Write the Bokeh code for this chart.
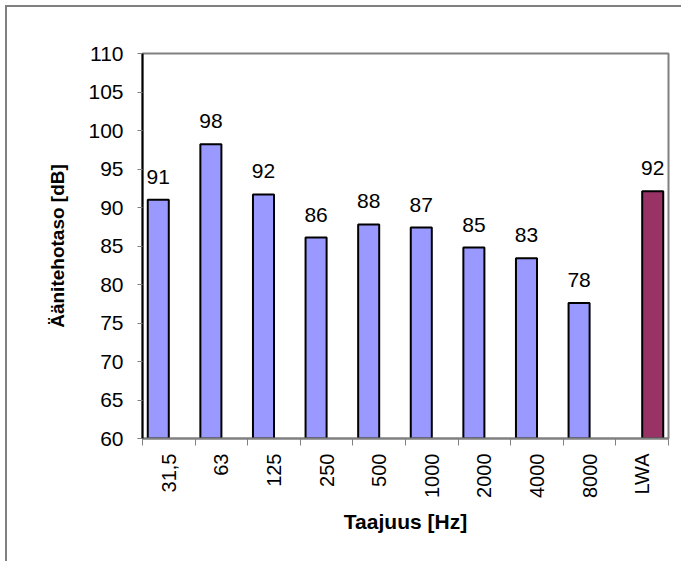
import math
import numpy as np
from bokeh.plotting import figure
from bokeh.models import ColumnDataSource, Range1d, FixedTicker, LinearAxis
from bokeh.transform import dodge
from bokeh.core.properties import value
from bokeh.embed import file_html
from bokeh.resources import INLINE

# ---- data ----
categories = ["31,5", "63", "125", "250", "500", "1000", "2000", "4000", "8000", "LWA"]
band_levels = [91.0, 98.2, 91.7, 86.1, 87.8, 87.4, 84.8, 83.4, 77.6]
total_level = [92.1]
y_ticks = [60, 65, 70, 75, 80, 85, 90, 95, 100, 105, 110]

x_title = "Taajuus [Hz]"
y_title = "Äänitehotaso [dB]"

n = len(categories)
centers = [i + 0.5 for i in range(n)]
boundaries = list(range(n + 1))

band_src = ColumnDataSource(dict(
    x=centers[:len(band_levels)],
    top=band_levels,
    label=[str(int(round(v))) for v in band_levels],
))
total_src = ColumnDataSource(dict(
    x=centers[len(band_levels):],
    top=total_level,
    label=[str(int(round(v))) for v in total_level],
))

FONT = "Liberation Sans"
GRAY = "#808080"


# rotated tick labels start at the far side of the label band; pad their
# start so that every label ends right under the axis
def _em(s):
    w = {",": 0.278, "L": 0.556, "W": 0.944, "A": 0.667}
    return sum(w.get(ch, 0.556) for ch in s)


_max = max(_em(c) for c in categories)
padded = ["\u200b" + "\u00a0" * int(round((_max - _em(c)) / 0.278)) + c for c in categories]

p = figure(width=676, height=556, output_backend="svg", toolbar_location=None,
           x_range=Range1d(0, n), y_range=Range1d(y_ticks[0], y_ticks[-1]),
           min_border_left=135, min_border_right=15, min_border_top=46, min_border_bottom=125,
           x_axis_type=None, y_axis_type=None)
p.styles = {"margin-left": "5px", "margin-top": "5px",
            "border-top": "2px solid #808080", "border-left": "2px solid #808080"}

p.background_fill_color = "white"
p.border_fill_color = "white"
p.outline_line_color = GRAY
p.outline_line_width = 2

# bars
p.vbar(x=dodge("x", -0.2), top="top", bottom=y_ticks[0], width=0.4, source=band_src,
       fill_color="#9999FF", line_color="black", line_width=2)
p.vbar(x=dodge("x", 0.2), top="top", bottom=y_ticks[0], width=0.4, source=total_src,
       fill_color="#993366", line_color="black", line_width=2)

# value labels
for src, off in ((band_src, -0.2), (total_src, 0.2)):
    p.text(x=dodge("x", off), y="top", text="label", source=src,
           text_font=value(FONT), text_font_size="21px", text_color="black",
           text_align="center", text_baseline="alphabetic", y_offset=-23)

# y axis
yax = LinearAxis(ticker=FixedTicker(ticks=y_ticks))
yax.axis_label = y_title
yax.axis_label_text_font = FONT
yax.axis_label_text_font_style = "bold"
yax.axis_label_text_font_size = "19px"
yax.axis_label_text_color = "black"
yax.axis_label_standoff = 17
yax.major_label_text_font = FONT
yax.major_label_text_font_size = "21px"
yax.major_label_text_color = "black"
yax.major_label_standoff = 14
yax.axis_line_color = "black"
yax.axis_line_width = 2
yax.major_tick_out = 5
yax.major_tick_in = 0
yax.major_tick_line_color = GRAY
yax.minor_tick_line_color = None
p.add_layout(yax, "left")

# x axis
xax = LinearAxis(ticker=FixedTicker(ticks=centers, minor_ticks=boundaries))
xax.major_label_overrides = {c: lab for c, lab in zip(centers, padded)}
xax.major_label_orientation = math.pi / 2
xax.axis_label = x_title
xax.axis_label_text_font = FONT
xax.axis_label_text_font_style = "bold"
xax.axis_label_text_font_size = "21px"
xax.axis_label_text_color = "black"
xax.axis_label_standoff = 9
xax.major_label_text_font = FONT
xax.major_label_text_font_size = "20px"
xax.major_label_text_color = "black"
xax.major_label_standoff = 8
xax.axis_line_color = GRAY
xax.axis_line_width = 2
xax.major_tick_line_color = None
xax.major_tick_out = 0
xax.major_tick_in = 0
xax.minor_tick_line_color = GRAY
xax.minor_tick_out = 7
xax.minor_tick_in = 0
p.add_layout(xax, "below")

p.xgrid.visible = False
p.ygrid.ticker = FixedTicker(ticks=y_ticks)
p.ygrid.grid_line_color = GRAY
p.ygrid.grid_line_width = 1

open("out.html", "w").write(file_html(p, INLINE))
